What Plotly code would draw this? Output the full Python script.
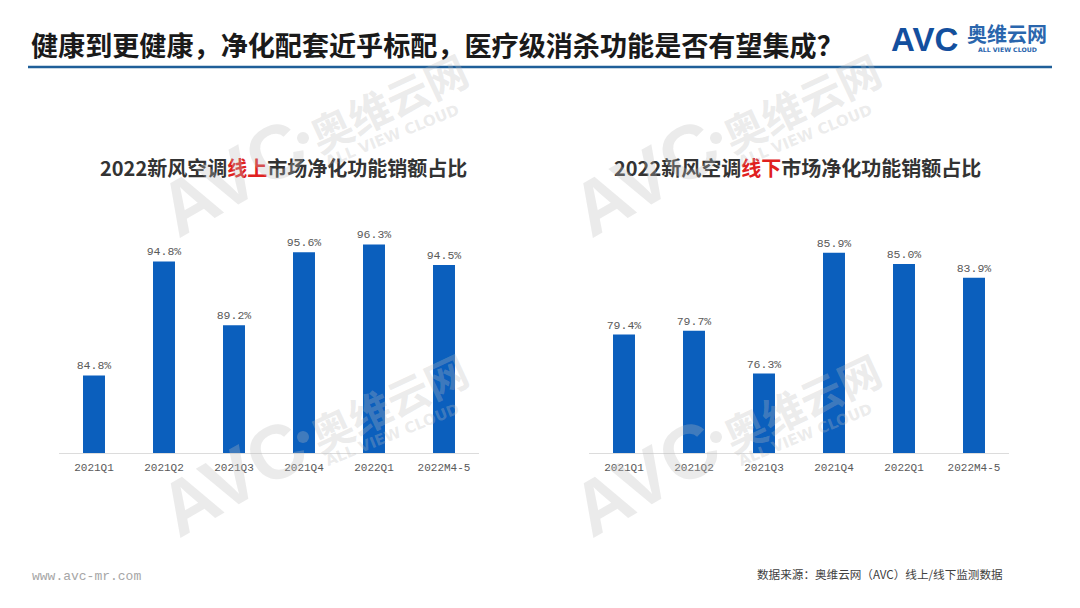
import plotly.graph_objects as go
from plotly.subplots import make_subplots

W = 1080
H = 608
PAGE_MARGIN = 8  # the page body has a default margin, positions below are in picture pixels

# Data
categories = ['2021Q1', '2021Q2', '2021Q3', '2021Q4', '2022Q1', '2022M4-5']
online_share = [84.8, 94.8, 89.2, 95.6, 96.3, 94.5]
offline_share = [79.4, 79.7, 76.3, 85.9, 85.0, 83.9]

main_title = '健康到更健康，净化配套近乎标配，医疗级消杀功能是否有望集成？'
online_title = '2022新风空调<span style="color:#e02020">线上</span>市场净化功能销额占比'
offline_title = '2022新风空调<span style="color:#e02020">线下</span>市场净化功能销额占比'
source_note = '数据来源：奥维云网（AVC）线上/线下监测数据'
site_note = 'www.avc-mr.com'

BAR = '#0b5fbd'
CJK = 'Noto Sans CJK SC'
MONO = 'Liberation Mono, Noto Sans CJK SC'
WM = 'rgba(190,190,190,0.30)'


def px(x):
    return (x - PAGE_MARGIN) / W


def py(y):
    return 1 - (y - PAGE_MARGIN) / H


def text(fig, x, y, s, size, color='#222222', family=CJK, weight=None, angle=0, anchor='center'):
    fig.add_annotation(
        xref='paper', yref='paper', x=px(x), y=py(y), text=s, showarrow=False,
        xanchor=anchor, yanchor='middle', textangle=angle,
        font=dict(size=size, color=color, family=family, weight=weight),
    )


def dot(fig, x, y, r, color):
    fig.add_shape(type='circle', xref='paper', yref='paper', x0=px(x - r), x1=px(x + r),
                  y0=py(y + r), y1=py(y - r), fillcolor=color, line=dict(width=0))


fig = make_subplots(rows=1, cols=2)

for col, vals, dom, rng in [
    (1, online_share, [59, 479], [78, 101.07]),
    (2, offline_share, [589, 1009], [70, 90.87]),
]:
    fig.add_trace(go.Bar(
        x=categories, y=vals, marker=dict(color=BAR, line=dict(width=0)),
        text=['%.1f%%' % v for v in vals], textposition='outside', cliponaxis=False,
        constraintext='none',
        textfont=dict(size=11.5, color='#595959', family=MONO), showlegend=False,
    ), row=1, col=col)
    fig.update_xaxes(
        domain=[px(dom[0]), px(dom[1])], showline=True, linecolor='#dcdcdc', linewidth=1,
        showgrid=False, ticks='', ticklabelstandoff=4,
        tickfont=dict(size=11, color='#595959', family=MONO),
        row=1, col=col,
    )
    fig.update_yaxes(
        domain=[py(453), py(190)], range=rng, visible=False, showgrid=False,
        row=1, col=col,
    )

# header text and rule
text(fig, 29, 45, main_title, 27.1, color='#1a1a1a', weight=700, anchor='left')
fig.add_shape(type='line', xref='paper', yref='paper', x0=px(28), x1=px(1052), y0=py(67), y1=py(67),
              line=dict(color='#1f5f99', width=2.5))

# logo
text(fig, 924, 40, 'AVC', 33, color='#134f9e', family='Liberation Sans', weight=700)
text(fig, 1007, 34, '奥维云网', 20, color='#2a66ad', weight=700)
text(fig, 1007, 50, 'ALL VIEW CLOUD', 6.2, color='#2a66ad', family='DejaVu Sans', weight=700)
dot(fig, 953, 32, 2.5, '#f0a030')

# chart titles
text(fig, 283, 168, online_title, 20, color='#333333', weight=700)
text(fig, 797, 168, offline_title, 20, color='#333333', weight=700)

# footer
text(fig, 30, 576, site_note, 13, color='#a6a6a6', family=MONO, anchor='left')
text(fig, 755, 574, source_note, 11.6, color='#404040', anchor='left')

# watermarks, repeated in four places
for dx, dy in [(0, 0), (413, 0), (0, 299), (413, 299)]:
    text(fig, 232 + dx, 178 + dy, 'AVC', 76, color=WM, family='Liberation Sans', weight=700, angle=-30)
    dot(fig, 303 + dx, 138 + dy, 6, WM)
    text(fig, 388 + dx, 102 + dy, '奥维云网', 42, color=WM, weight=700, angle=-25)
    text(fig, 392 + dx, 136 + dy, 'ALL VIEW CLOUD', 15, color=WM, family='DejaVu Sans', weight=700, angle=-22)

fig.update_layout(
    width=W, height=H, margin=dict(l=0, r=0, t=0, b=0),
    paper_bgcolor='white', plot_bgcolor='white', bargap=0.686,
)

fig.write_html("out.html")
